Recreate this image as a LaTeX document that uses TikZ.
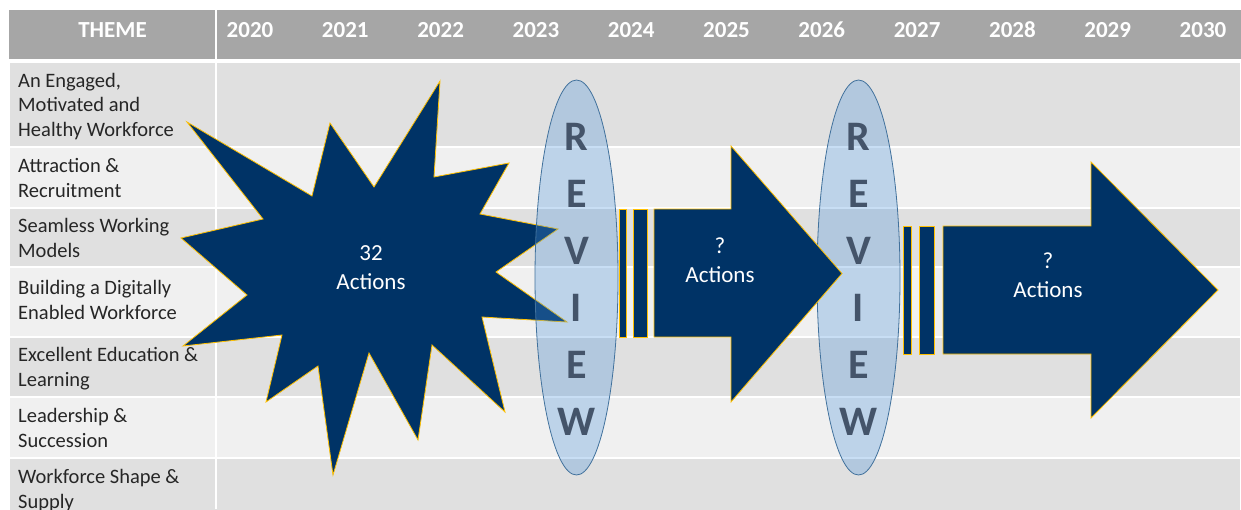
\documentclass[tikz,border=0pt]{standalone}
\usepackage{fontspec}
\setmainfont{Carlito}
\usepackage{xcolor}
\usetikzlibrary{shapes.geometric}

\definecolor{hdrgray}{HTML}{A6A6A6}
\definecolor{rowdark}{HTML}{E0E0E0}
\definecolor{rowlight}{HTML}{F0F0F0}
\definecolor{navy}{HTML}{003366}
\definecolor{gold}{HTML}{FFC000}
\definecolor{revfill}{HTML}{4993DC}
\definecolor{revedge}{HTML}{41719C}
\definecolor{revtext}{HTML}{44546A}
\definecolor{lbltext}{HTML}{262626}

\begin{document}
\begin{tikzpicture}[x=1pt,y=-1pt,
    hdr/.style={font=\bfseries\fontsize{23}{28}\selectfont,text=white,anchor=base,inner sep=0},
    theme/.style={font=\fontsize{20.5}{24.5}\selectfont,text=lbltext,align=left,anchor=base west,inner sep=0},
    acts/.style={font=\fontsize{23}{29}\selectfont,text=white,align=center,anchor=base,inner sep=0},
    navyshape/.style={fill=navy,draw=gold,line width=0.8pt,line join=miter},
    review/.style={ellipse,fill=revfill,fill opacity=0.3,draw=revedge,line width=0.8pt,minimum width=83,minimum height=395,inner sep=0},
    letter/.style={font=\bfseries\fontsize{42}{42}\selectfont,text=revtext,anchor=base,inner sep=0}]

    \useasboundingbox (0,0) rectangle (1241,509);

    % table
    \fill[hdrgray] (9,10) rectangle (1241,59);
    \foreach \top/\bot/\col in {62/147/rowdark,147/208/rowlight,208/267/rowdark,267/337/rowlight,337/397/rowdark,397/458/rowlight,458/512/rowdark}
        \filldraw[fill=\col,draw=white,line width=2pt] (9,\top) rectangle (1241,\bot);
    \draw[white,line width=2pt] (216,10) -- (216,509);

    \node[hdr] (theme) at (112.5,37) {THEME};
    \foreach \yr [count=\i from 0] in {2020,...,2030}
        \node[hdr] (y\yr) at ({250+95.3*\i},37) {\yr};

    % base = last line
    \node[theme] (r1) at (18,136) {An Engaged,\\Motivated and\\Healthy Workforce};
    \node[theme] (r2) at (18,197) {Attraction \&\\Recruitment};
    \node[theme] (r3) at (18,257) {Seamless Working\\Models};
    \node[theme] (r4) at (18,319) {Building a Digitally\\Enabled Workforce};
    \node[theme] (r5) at (18,386) {Excellent Education \&\\Learning};
    \node[theme] (r6) at (18,447) {Leadership \&\\Succession};
    \node[theme] (r7) at (18,508) {Workforce Shape \&\\Supply};

    % burst
    \path[navyshape] (187,122) -- (312,196) -- (330,123) -- (374,187) -- (440,81) -- (434,177)
        -- (509,163) -- (480,214) -- (558,229) -- (496,272) -- (567,322) -- (482,317)
        -- (505,412) -- (432,345) -- (418,440) -- (369,353) -- (333,475) -- (318,366)
        -- (266,402) -- (282,335) -- (183,346) -- (247,295) -- (181,238) -- (263,219) -- cycle;
    \node[acts] (now) at (371,289) {32\\Actions};

    % review ellipses
    \node[review] (rev1) at (576.5,277.5) {};
    \node[review] (rev2) at (858.5,277.5) {};
    \foreach \e in {1,2}
        \foreach \ch [count=\k from 0] in {R,E,V,I,E,W}
            \node[letter] (rev\e\k) at ([yshift={127pt-57pt*\k}]rev\e.center) {\ch};

    % arrows
    \path[navyshape] (619,209) rectangle (626,337);
    \path[navyshape] (633,209) rectangle (647,337);
    \path[navyshape] (654,209) -- (731,209) -- (731,146) -- (842,273.5) -- (731,402) -- (731,337) -- (654,337) -- cycle;
    \node[acts] (next) at (720,282) {?\\Actions};

    \path[navyshape] (903,226) rectangle (911,354);
    \path[navyshape] (919,226) rectangle (934,354);
    \path[navyshape] (943,226) -- (1091,226) -- (1091,162) -- (1218,290) -- (1091,418) -- (1091,354) -- (943,354) -- cycle;
    \node[acts] (later) at (1048,297) {?\\Actions};
\end{tikzpicture}
\end{document}
